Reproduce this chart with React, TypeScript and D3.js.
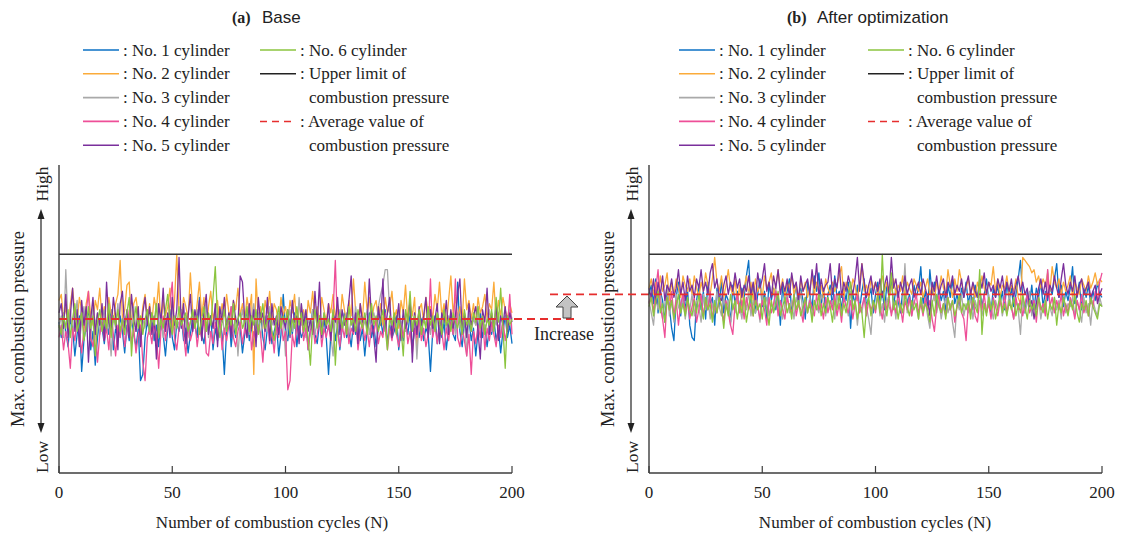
import React from 'react';
import * as d3 from 'd3';

// relative max. combustion pressure, 0 = Low ... 100 = High (no real units on the axis)
// (a) Base
const base1 = [
  49,44,52,46,41,50,47,38,45,51,33,43,48,52,40,46,35,44,50,47,
  42,49,45,53,40,47,44,51,46,39,48,43,50,45,41,47,30,32,44,49,
  46,52,43,48,41,50,45,38,47,53,44,40,49,46,51,43,47,39,45,50,
  48,44,57,45,42,49,46,51,40,47,43,50,45,32,46,52,41,48,44,50,
  47,39,45,52,43,48,41,49,46,53,44,40,47,51,42,46,49,38,45,58,
  47,43,50,45,52,41,48,44,46,51,40,47,53,45,42,49,46,50,44,32,
  45,51,43,48,40,47,52,44,46,41,49,45,50,43,47,38,46,52,44,48,
  41,47,50,45,53,42,48,44,46,51,40,47,43,49,45,52,41,46,48,44,
  50,43,47,45,33,46,51,42,48,44,49,40,47,52,45,43,62,46,41,49,
  45,50,43,47,38,46,52,44,48,41,47,45,50,43,47,39,46,51,44,48,
  42];
const base2 = [
  56,58,50,54,47,55,60,52,49,57,53,46,55,59,51,48,56,53,60,50,
  54,47,57,52,49,55,58,69,50,53,61,62,48,55,57,51,46,54,58,50,
  55,49,57,53,62,48,56,51,54,60,47,56,71,52,49,57,54,50,65,53,
  48,55,62,51,57,46,54,59,50,53,56,48,55,51,58,52,47,56,53,60,
  51,55,49,57,52,58,32,63,50,54,47,56,52,59,49,55,53,48,57,51,
  54,49,56,52,58,47,55,50,53,47,56,52,59,50,54,48,57,53,49,55,
  52,58,50,54,48,58,53,49,56,51,63,52,48,55,50,62,53,57,49,54,
  56,50,55,48,57,52,54,59,50,53,47,56,52,61,49,55,51,57,40,53,
  55,49,57,52,54,50,58,53,62,51,55,48,56,64,52,57,50,54,49,63,
  53,56,50,55,48,57,52,54,58,50,55,53,62,49,56,51,57,53,50,55,
  52];
const base3 = [
  47,51,44,66,48,53,45,50,56,42,49,54,46,51,43,55,48,52,45,50,
  53,46,49,38,51,47,55,44,50,48,52,45,49,54,46,51,43,50,47,53,
  45,50,48,55,46,52,44,49,51,47,54,45,50,48,53,46,51,44,49,52,
  47,53,45,50,48,55,44,51,47,52,46,49,53,45,50,48,54,46,51,38,
  49,53,46,51,45,50,55,47,52,44,49,51,46,54,48,50,45,52,47,51,
  38,49,53,46,51,45,57,48,52,44,50,47,53,45,49,51,46,52,48,50,
  45,38,51,47,53,46,49,52,45,50,48,54,46,51,47,49,53,45,50,52,
  48,54,58,61,66,66,52,47,50,45,53,48,51,46,49,54,47,52,37,50,
  46,51,48,53,45,50,47,52,44,49,53,46,51,48,50,45,52,47,49,51,
  38,52,46,50,48,54,45,51,47,49,53,46,50,48,52,45,49,51,47,53,
  50];
const base4 = [
  44,48,40,46,42,34,47,43,50,45,39,47,52,59,44,41,48,36,45,49,
  43,47,40,51,45,38,48,44,50,41,46,53,42,47,39,45,48,36,30,44,
  47,42,49,45,34,46,51,43,48,55,62,44,40,47,52,45,38,49,43,46,
  50,41,47,44,52,39,38,46,42,49,45,51,40,47,43,48,54,44,41,46,
  49,42,47,44,52,40,46,43,48,45,36,47,51,42,46,39,48,44,50,43,
  46,27,30,45,41,48,44,52,43,47,40,46,49,42,45,50,41,47,44,48,
  43,52,69,46,41,48,44,50,42,47,45,51,40,46,49,43,47,41,48,45,
  50,42,46,44,52,40,47,43,49,45,41,48,44,51,42,46,39,47,44,50,
  43,47,41,45,63,44,48,42,50,46,40,47,43,49,45,63,44,41,47,43,
  38,45,32,46,42,48,44,51,40,47,43,49,45,41,48,44,50,43,47,58,
  45];
const base5 = [
  52,55,47,58,44,51,60,46,53,41,56,48,54,36,50,57,45,52,48,55,
  43,62,49,46,57,51,40,55,59,47,53,44,58,50,46,54,41,52,57,48,
  54,45,51,37,55,49,60,46,52,44,57,48,53,70,47,55,42,51,58,46,
  53,49,56,43,52,58,45,51,47,55,41,54,49,57,46,52,44,56,50,48,
  64,62,50,44,55,47,53,41,57,49,52,46,57,43,55,48,51,45,54,50,
  47,53,44,56,49,51,42,55,48,53,46,50,45,59,48,62,44,51,47,55,
  43,52,49,57,45,53,48,50,56,64,46,52,42,55,49,51,47,63,50,44,
  36,54,48,63,46,52,57,44,51,49,55,43,53,47,50,56,36,52,45,54,
  48,51,57,44,53,47,50,55,42,52,49,56,45,53,47,51,58,63,46,52,
  44,55,48,51,54,46,37,53,49,60,45,52,47,55,43,51,48,54,46,52,
  49];
const base6 = [
  48,45,51,47,53,44,50,55,46,49,52,43,48,54,47,51,38,49,53,46,
  50,47,55,44,51,48,53,46,50,45,52,57,38,49,54,47,51,45,50,53,
  46,52,48,55,44,50,47,53,58,49,45,51,47,54,48,50,52,46,49,53,
  47,51,45,50,54,46,52,48,57,67,50,44,49,53,46,51,48,55,45,50,
  52,47,49,54,46,51,48,53,45,50,55,47,49,52,46,43,50,54,47,51,
  49,53,45,50,47,54,48,52,46,50,44,35,49,53,47,51,45,52,48,50,
  46,53,35,49,52,47,51,45,54,48,50,46,53,49,47,52,45,50,55,48,
  51,46,49,53,47,40,51,48,52,45,50,47,38,53,49,59,46,51,48,53,
  45,50,47,54,48,51,46,52,49,45,53,48,50,46,52,49,47,51,45,53,
  48,50,46,52,49,54,47,51,45,50,48,53,46,57,49,60,47,34,51,48,
  50];

// (b) After optimization
const opt1 = [
  58,61,55,63,52,59,56,49,60,54,47,43,57,62,51,58,53,60,48,44,
  43,56,61,53,59,50,62,55,57,48,60,54,63,52,58,56,49,61,55,59,
  53,60,57,64,69,55,61,52,58,63,54,59,50,62,56,60,53,58,48,61,
  55,59,63,52,57,61,54,60,56,50,62,58,53,64,59,65,55,60,52,58,
  61,54,64,57,59,53,60,56,62,47,58,55,61,53,59,63,54,57,60,52,
  58,62,55,59,53,61,57,63,54,60,56,52,59,62,55,58,53,61,57,60,
  67,55,59,53,66,58,62,54,60,56,59,52,61,57,63,55,58,54,60,57,
  62,55,59,53,61,57,60,54,58,63,56,52,60,57,61,55,59,53,62,56,
  60,54,58,63,69,57,52,59,55,61,53,60,57,62,54,59,56,60,58,63,
  68,57,61,54,59,56,60,67,55,58,62,53,60,57,61,55,59,56,62,58,
  57];
const opt2 = [
  60,63,58,62,57,64,59,61,65,56,62,58,63,60,57,64,61,59,63,58,
  64,60,57,62,59,65,61,58,63,70,62,59,64,57,61,66,60,58,63,55,
  61,53,60,64,58,62,56,63,59,61,57,64,60,62,65,58,61,66,59,63,
  57,62,60,64,58,61,56,63,59,62,57,60,64,58,62,59,61,57,63,60,
  58,62,59,61,64,67,57,62,60,58,63,61,56,62,68,59,61,57,63,60,
  62,58,61,64,59,62,57,60,63,58,61,59,64,57,62,60,58,63,61,59,
  62,57,60,63,58,61,56,62,59,64,60,58,66,61,57,63,59,66,62,58,
  60,63,58,61,57,62,59,64,60,58,62,61,67,59,63,57,61,60,64,58,
  61,59,63,57,55,70,69,68,67,65,66,62,64,60,63,61,65,59,67,62,
  60,63,58,62,59,61,64,57,62,60,58,63,61,59,64,60,62,65,61,63,
  62];
const opt3 = [
  56,52,48,57,53,59,50,55,61,51,56,49,58,54,52,57,50,55,53,58,
  51,56,54,49,58,53,57,50,55,52,59,54,51,57,53,56,48,55,52,58,
  54,50,57,53,59,51,56,52,55,49,58,54,57,51,55,53,60,52,56,50,
  55,58,52,56,50,57,54,59,51,55,53,57,50,56,54,52,58,55,51,57,
  53,56,50,58,54,52,57,55,51,59,53,56,48,55,52,57,54,50,45,56,
  53,58,51,55,49,57,54,52,56,50,58,53,55,68,52,57,51,56,54,50,
  57,53,56,51,47,55,58,52,56,50,54,57,52,55,49,44,56,53,58,51,
  55,52,57,50,56,53,59,51,55,52,58,54,50,56,53,57,51,55,52,58,
  54,50,56,53,45,57,52,55,59,51,56,53,57,50,55,52,66,54,51,57,
  53,56,50,58,52,55,54,57,51,56,53,49,57,52,55,48,56,53,51,57,
  54];
const opt4 = [
  55,58,52,60,66,54,50,44,57,53,59,51,56,48,55,58,52,56,50,54,
  57,49,53,58,51,56,53,59,50,55,52,57,54,49,56,52,48,45,55,58,
  52,56,50,57,53,55,51,58,54,50,56,53,48,57,52,55,59,51,56,53,
  50,57,54,52,58,51,55,53,49,57,52,56,54,51,58,53,55,50,57,52,
  56,53,58,51,55,49,57,54,52,56,50,55,58,52,54,57,51,56,53,55,
  52,58,54,50,56,53,57,51,55,52,59,54,49,56,53,57,51,55,58,52,
  55,51,57,53,56,50,46,54,58,52,55,51,57,53,56,49,54,57,52,50,
  43,55,52,57,51,49,56,53,58,52,55,50,57,54,51,56,53,58,52,55,
  54,50,57,53,56,51,55,58,52,54,56,49,57,53,55,51,66,54,57,52,
  56,53,58,51,55,52,57,54,50,56,53,58,52,55,51,57,54,59,56,62,
  65];
const opt5 = [
  60,57,63,55,62,58,64,56,61,59,63,57,60,66,58,62,56,64,59,61,
  57,63,60,66,59,62,58,65,68,60,63,57,56,61,64,58,62,59,65,60,
  63,57,61,59,64,58,62,56,65,60,63,68,59,62,57,64,60,66,58,62,
  59,63,57,65,60,62,56,64,59,61,63,58,66,60,68,57,63,59,61,62,
  68,58,63,60,68,57,62,59,64,61,58,63,70,59,68,62,57,61,64,58,
  62,59,63,57,61,64,58,70,60,63,57,62,59,64,58,61,63,57,60,62,
  58,63,60,57,51,62,59,64,58,61,63,57,62,60,64,58,61,59,63,57,
  61,64,58,62,59,57,63,60,65,58,62,59,61,57,63,60,64,58,62,59,
  63,57,61,64,59,62,58,60,54,56,50,55,60,63,58,62,57,61,59,64,
  60,57,63,68,61,58,62,59,64,57,61,63,58,60,62,57,59,61,55,58,
  60];
const opt6 = [
  54,57,51,56,59,52,55,49,57,53,56,50,54,58,52,55,51,57,53,51,
  56,52,58,54,50,57,53,55,49,56,52,57,54,47,55,51,58,53,56,50,
  55,52,57,49,54,58,51,56,53,55,50,57,53,48,56,52,55,59,51,54,
  57,52,55,50,58,53,56,51,54,57,52,55,49,56,53,58,51,55,52,57,
  54,49,56,53,58,51,55,52,57,62,53,56,50,55,52,44,54,57,51,56,
  53,58,52,71,55,51,57,65,53,56,50,55,52,58,54,51,56,53,55,50,
  57,52,55,53,49,56,51,58,54,52,55,50,57,53,56,51,54,58,52,55,
  53,56,50,57,54,52,66,45,55,51,57,53,56,50,54,58,52,55,51,56,
  53,57,51,55,52,58,54,50,56,53,55,51,57,54,52,56,50,55,53,57,
  48,55,52,57,54,51,56,53,58,52,49,55,53,56,51,57,54,52,50,55,
  54];

const baseSeries = [base1, base2, base3, base4, base5, base6];
const optSeries = [opt1, opt2, opt3, opt4, opt5, opt6];
const cylinderNames = ['No. 1 cylinder', 'No. 2 cylinder', 'No. 3 cylinder', 'No. 4 cylinder', 'No. 5 cylinder', 'No. 6 cylinder'];
const cylinderColors = ['#0a71c4', '#fbab3a', '#a9a9a9', '#ee4f98', '#7a2f9c', '#8bc53f'];
const upperLimit = 71;
const avgBase = 50;
const avgOpt = 58;
const xTicks = [0, 50, 100, 150, 200];

const SERIF = '"Liberation Serif", "Times New Roman", serif';
const SANS = '"Liberation Sans", Arial, sans-serif';
const AXIS = '#3c3c3c';
const AVG_RED = '#e62e2e';

const yTop = 165, yBot = 473;
const y = d3.scaleLinear().domain([0, 100]).range([yBot, yTop]);

function Panel(props) {
  const { left, data, avg, tag, title, titleX, legX, leg2X, xTitleX, avgFrom, avgTo } = props;
  const x = d3.scaleLinear().domain([0, 200]).range([left, left + 453]);
  const line = d3.line<number>().x((d, i) => x(i)).y(d => y(d));
  const rowY = (i) => 50 + i * 23.8;
  const lab = left - 59; // shift of the y-axis decorations

  return (
    <g>
      {/* title */}
      <text x={titleX} y={23} fontSize={16} fontFamily={SERIF} fontWeight="bold" fill="#222">{tag}</text>
      <text x={titleX + 30} y={23} fontSize={17} fontFamily={SANS} fill="#222">{title}</text>

      {/* legend */}
      {cylinderNames.slice(0, 5).map((n, i) => (
        <g key={n}>
          <line x1={legX} x2={legX + 36} y1={rowY(i)} y2={rowY(i)} stroke={cylinderColors[i]} strokeWidth={1.6} />
          <text x={legX + 40} y={rowY(i) + 5.5} fontSize={17} fontFamily={SERIF} fill="#222">: {n}</text>
        </g>
      ))}
      <line x1={leg2X} x2={leg2X + 36} y1={rowY(0)} y2={rowY(0)} stroke={cylinderColors[5]} strokeWidth={1.6} />
      <text x={leg2X + 40} y={rowY(0) + 5.5} fontSize={17} fontFamily={SERIF} fill="#222">: {cylinderNames[5]}</text>
      <line x1={leg2X} x2={leg2X + 36} y1={rowY(1)} y2={rowY(1)} stroke="#222" strokeWidth={1.4} />
      <text x={leg2X + 40} y={rowY(1) + 5.5} fontSize={17} fontFamily={SERIF} fill="#222">: Upper limit of</text>
      <text x={leg2X + 49} y={rowY(2) + 5.5} fontSize={17} fontFamily={SERIF} fill="#222">combustion pressure</text>
      <line x1={leg2X} x2={leg2X + 36} y1={rowY(3)} y2={rowY(3)} stroke={AVG_RED} strokeWidth={1.5} strokeDasharray="7,5" />
      <text x={leg2X + 40} y={rowY(3) + 5.5} fontSize={17} fontFamily={SERIF} fill="#222">: Average value of</text>
      <text x={leg2X + 49} y={rowY(4) + 5.5} fontSize={17} fontFamily={SERIF} fill="#222">combustion pressure</text>

      {/* y axis decorations */}
      <text transform={`translate(${24 + lab},329) rotate(-90)`} textAnchor="middle" fontSize={18.5} fontFamily={SERIF} fill="#222">Max. combustion pressure</text>
      <text transform={`translate(${48 + lab},184) rotate(-90)`} textAnchor="middle" fontSize={17.5} fontFamily={SERIF} fill="#222">High</text>
      <text transform={`translate(${48 + lab},457) rotate(-90)`} textAnchor="middle" fontSize={17.5} fontFamily={SERIF} fill="#222">Low</text>
      <line x1={41 + lab} x2={41 + lab} y1={215} y2={427} stroke="#222" strokeWidth={1.2} />
      <path d={`M${41 + lab},209 L${37.5 + lab},219 L${44.5 + lab},219 Z`} fill="#222" />
      <path d={`M${41 + lab},433 L${37.5 + lab},423 L${44.5 + lab},423 Z`} fill="#222" />

      {/* series */}
      {data.map((s, i) => (
        <path key={i} d={line(s)} fill="none" stroke={cylinderColors[i]} strokeWidth={1.3} strokeLinejoin="round" />
      ))}

      {/* reference lines */}
      <line x1={x(0)} x2={x(200)} y1={y(upperLimit)} y2={y(upperLimit)} stroke="#333" strokeWidth={1.4} />
      <line x1={avgFrom} x2={avgTo} y1={y(avg)} y2={y(avg)} stroke={AVG_RED} strokeWidth={1.8} strokeDasharray="8,5" />

      {/* axes */}
      <line x1={left} x2={left} y1={yTop} y2={yBot} stroke={AXIS} strokeWidth={1.4} />
      <line x1={left} x2={x(200)} y1={yBot} y2={yBot} stroke={AXIS} strokeWidth={1.4} />
      {xTicks.map(t => (
        <g key={t}>
          <line x1={x(t)} x2={x(t)} y1={yBot} y2={yBot - 7} stroke={AXIS} strokeWidth={1.2} />
          <text x={x(t)} y={498} textAnchor="middle" fontSize={17} fontFamily={SERIF} fill="#222">{t}</text>
        </g>
      ))}
      <text x={xTitleX} y={528} textAnchor="middle" fontSize={17} fontFamily={SERIF} fill="#222">Number of combustion cycles (N)</text>
    </g>
  );
}

export default function App() {
  return (
    <div style={{ position: 'absolute', left: 0, top: 0, background: '#fff' }}>
      <svg width={1122} height={535} style={{ display: 'block' }}>
        <rect width={1122} height={535} fill="#fff" />
        <Panel left={59} data={baseSeries} avg={avgBase} tag="(a)" title="Base" titleX={232}
          legX={83} leg2X={260} xTitleX={272} avgFrom={59} avgTo={578} />
        <Panel left={649} data={optSeries} avg={avgOpt} tag="(b)" title="After optimization" titleX={787}
          legX={679} leg2X={868} xTitleX={875} avgFrom={550} avgTo={1102} />

        {/* increase marker between panels */}
        <path d="M567,296 L578,307 L571,307 L571,318 L563,318 L563,307 L556,307 Z" fill="#c3c3c3" stroke="#444" strokeWidth={1} />
        <text x={564} y={340} textAnchor="middle" fontSize={18} fontFamily={SERIF} fill="#222">Increase</text>
      </svg>
    </div>
  );
}
